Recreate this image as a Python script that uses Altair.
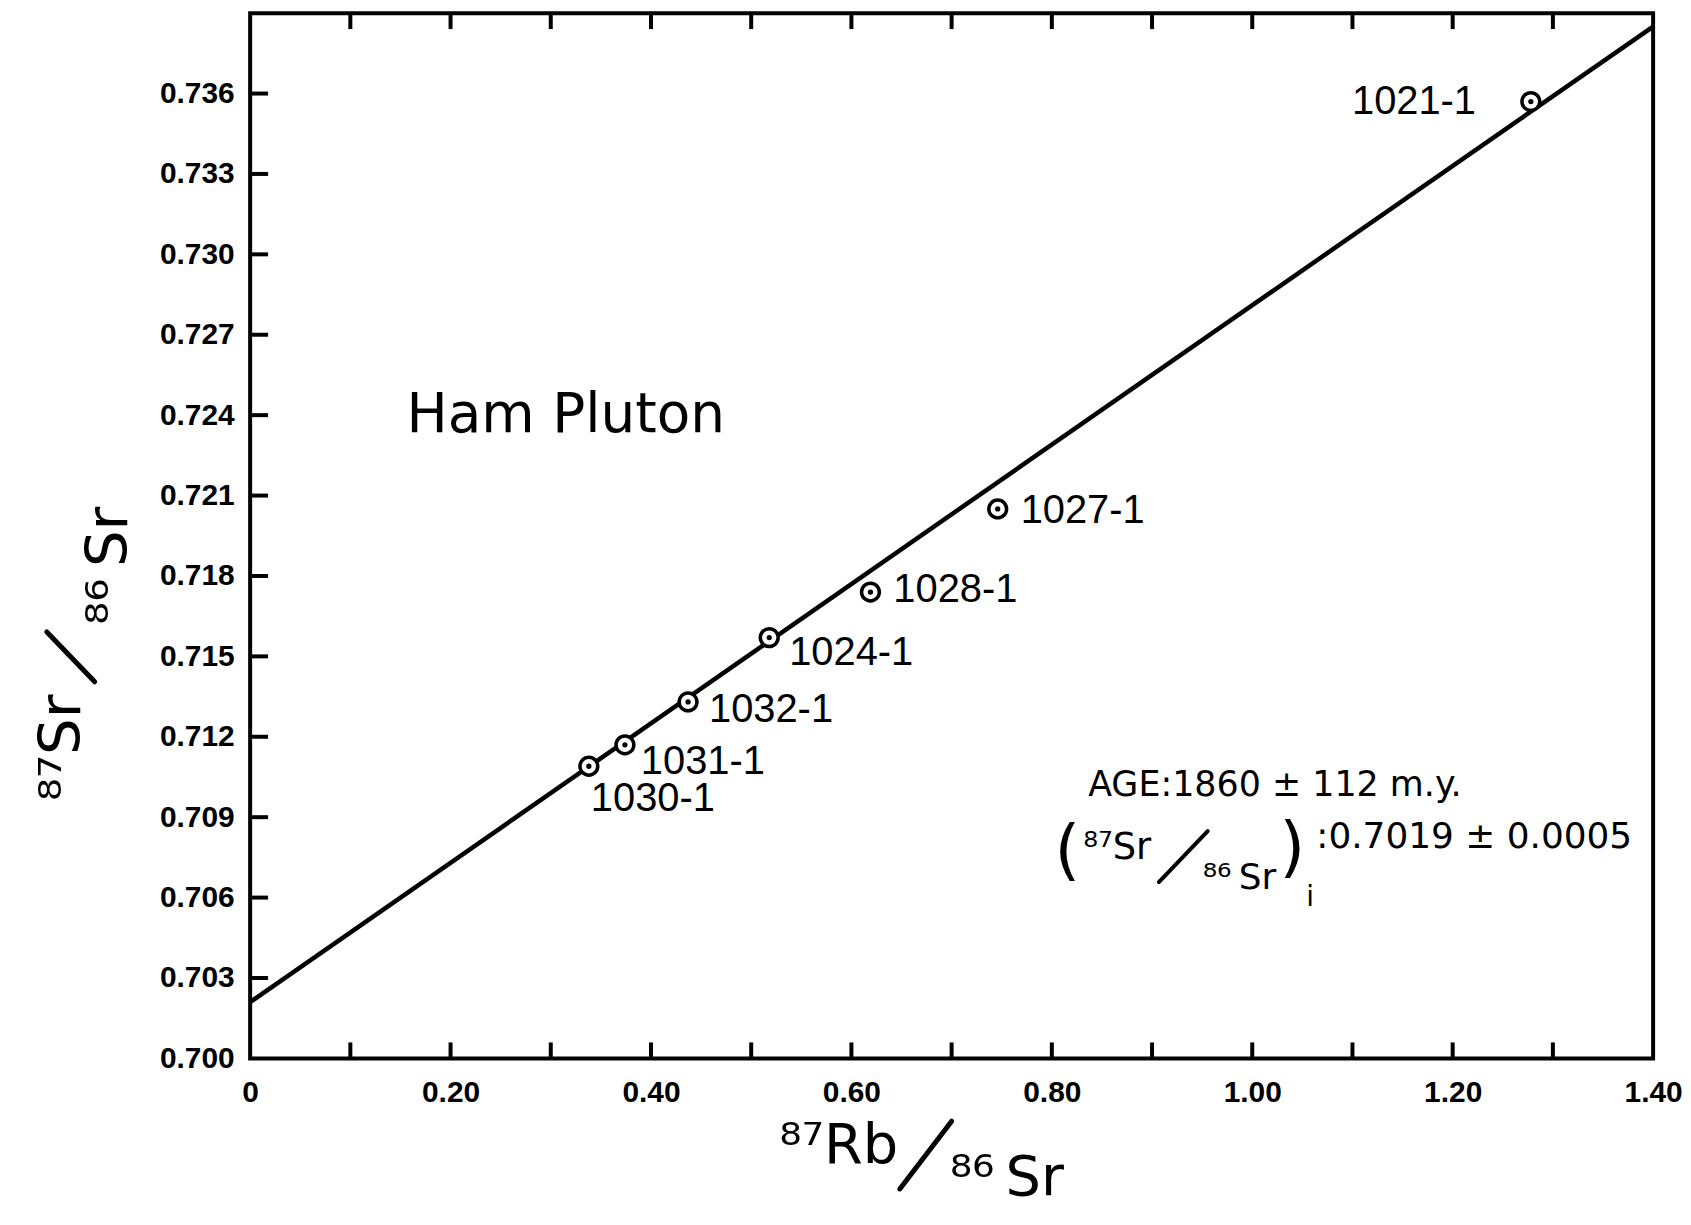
import altair as alt
import pandas as pd

# ---------------- data ----------------
sample_ids = ["1030-1", "1031-1", "1032-1", "1024-1", "1028-1", "1027-1", "1021-1"]
rb87_sr86 = [0.338, 0.374, 0.437, 0.518, 0.619, 0.746, 1.278]
sr87_sr86 = [0.7109, 0.7117, 0.7133, 0.7157, 0.7174, 0.7205, 0.7357]

isochron_x = [0.0, 1.40]
isochron_y = [0.7021, 0.7385]

x_label_values = [0.0, 0.2, 0.4, 0.6, 0.8, 1.0, 1.2, 1.4]
x_minor_ticks = [0.1, 0.2, 0.3, 0.4, 0.5, 0.6, 0.7, 0.8, 0.9, 1.0, 1.1, 1.2, 1.3]
y_tick_values = [0.700, 0.703, 0.706, 0.709, 0.712, 0.715, 0.718,
                 0.721, 0.724, 0.727, 0.730, 0.733, 0.736]
y_inner_ticks = y_tick_values[1:]

title_text = "Ham Pluton"
age_text = "AGE:1860 ± 112 m.y."
initial_ratio_text = ":0.7019 ± 0.0005"

# ---------------- styling ----------------
W, H = 1408, 1049
TITLE_FONT = "DejaVu Sans"
LABEL_FONT = "Liberation Sans"
# label placement per sample: (align, dx, dy)
LABEL_STYLE = {
    "1030-1": ("left", 2, 33),
    "1031-1": ("left", 16, 17),
    "1032-1": ("left", 21, 8),
    "1024-1": ("left", 20, 15),
    "1028-1": ("left", 23, -2),
    "1027-1": ("left", 23, 2),
    "1021-1": ("right", -55, 0),
}

df = pd.DataFrame({"id": sample_ids, "rb": rb87_sr86, "sr": sr87_sr86})
line_df = pd.DataFrame({"rb": isochron_x, "sr": isochron_y})

xs = alt.Scale(domain=[0, 1.4], nice=False, zero=False)
ys = alt.Scale(domain=[0.700, 0.739], nice=False, zero=False)

x_axis = alt.Axis(values=x_label_values,
                  labelExpr="datum.value == 0 ? '0' : format(datum.value, '.2f')",
                  ticks=False, domain=False, grid=False, title="",
                  labelFont=LABEL_FONT, labelFontSize=30, labelFontWeight="bold",
                  labelColor="black", labelPadding=19, labelFlush=False,
                  labelOverlap=False, labelBound=False)
y_axis = alt.Axis(values=y_tick_values, format=".3f",
                  ticks=False, domain=False, grid=False, title="",
                  labelFont=LABEL_FONT, labelFontSize=30, labelFontWeight="bold",
                  labelColor="black", labelPadding=16, labelFlush=False,
                  labelOverlap=False, labelBound=False)


def X(field):
    return alt.X(field, scale=xs, axis=x_axis)


def Y(field):
    return alt.Y(field, scale=ys, axis=y_axis)


line = alt.Chart(line_df).mark_line(color="black", strokeWidth=4.5).encode(
    x=X("rb:Q"), y=Y("sr:Q"))

rings = alt.Chart(df).mark_circle(size=320, fill="white", stroke="black",
                                  strokeWidth=3.5, opacity=1).encode(
    x=X("rb:Q"), y=Y("sr:Q"))
dots = alt.Chart(df).mark_circle(size=28, color="black", opacity=1).encode(
    x=X("rb:Q"), y=Y("sr:Q"))

label_layers = []
for sid in sample_ids:
    align, dx, dy = LABEL_STYLE[sid]
    label_layers.append(
        alt.Chart(df).transform_filter(alt.datum.id == sid).mark_text(
            align=align, baseline="middle", dx=dx, dy=dy,
            font=LABEL_FONT, fontSize=40, color="black").encode(
            x=X("rb:Q"), y=Y("sr:Q"), text="id:N")
    )

# inward ticks
xt_df = pd.DataFrame({"rb": x_minor_ticks})
yt_df = pd.DataFrame({"sr": y_inner_ticks})
bottom_ticks = alt.Chart(xt_df).mark_rule(color="black", strokeWidth=4).encode(
    x=X("rb:Q"), y=alt.value(H), y2=alt.value(H - 16))
top_ticks = alt.Chart(xt_df).mark_rule(color="black", strokeWidth=4).encode(
    x=X("rb:Q"), y=alt.value(0), y2=alt.value(16))
left_ticks = alt.Chart(yt_df).mark_rule(color="black", strokeWidth=4).encode(
    y=Y("sr:Q"), x=alt.value(0), x2=alt.value(18))


def txt(s, x, y, size, align="left", baseline="alphabetic", angle=0, font=TITLE_FONT):
    kw = dict(align=align, baseline=baseline, font=font, fontSize=size, color="black")
    if angle:
        kw["angle"] = angle
    return alt.Chart(pd.DataFrame({"t": [s]})).mark_text(**kw).encode(
        x=alt.value(x), y=alt.value(y), text="t:N")


def slash(x1, y1, x2, y2, w=4.5):
    return alt.Chart(pd.DataFrame({"t": [0]})).mark_rule(
        color="black", strokeWidth=w, strokeCap="round").encode(
        x=alt.value(x1), y=alt.value(y1), x2=alt.value(x2), y2=alt.value(y2))


annotations = [
    txt(title_text, 157, 420, 55),
    txt(age_text, 841, 786, 35),
    txt("(", 820, 842, 66, align="center", baseline="middle"),
    txt("⁸⁷Sr", 836, 849, 37),
    slash(961, 821, 912, 872, 4),
    txt("⁸⁶\u2009Sr", 956, 879, 36),
    txt(")", 1046, 839, 66, align="center", baseline="middle"),
    txt("i", 1060, 896, 28),
    txt(initial_ratio_text, 1070, 838, 36),
    # y-axis title
    txt("⁸⁷Sr", -171, 791, 58, angle=270),
    slash(-204, 621, -156, 671, 5),
    txt("⁸⁶\u2009Sr", -124, 614, 58, angle=270),
    # x-axis title
    txt("⁸⁷Rb", 531, 1154, 56),
    slash(704, 1112, 652, 1180, 5),
    txt("⁸⁶\u2009Sr", 702, 1186, 56),
]

chart = alt.layer(
    line, bottom_ticks, top_ticks, left_ticks, rings, dots,
    *label_layers, *annotations
).properties(
    width=W, height=H,
    autosize=alt.AutoSizeParams(type="none"),
    padding={"left": 243, "top": 3, "right": 30, "bottom": 150},
    background="white",
).configure_view(stroke="black", strokeWidth=4)

chart.save("out.html", embed_options={"renderer": "svg", "actions": False})
